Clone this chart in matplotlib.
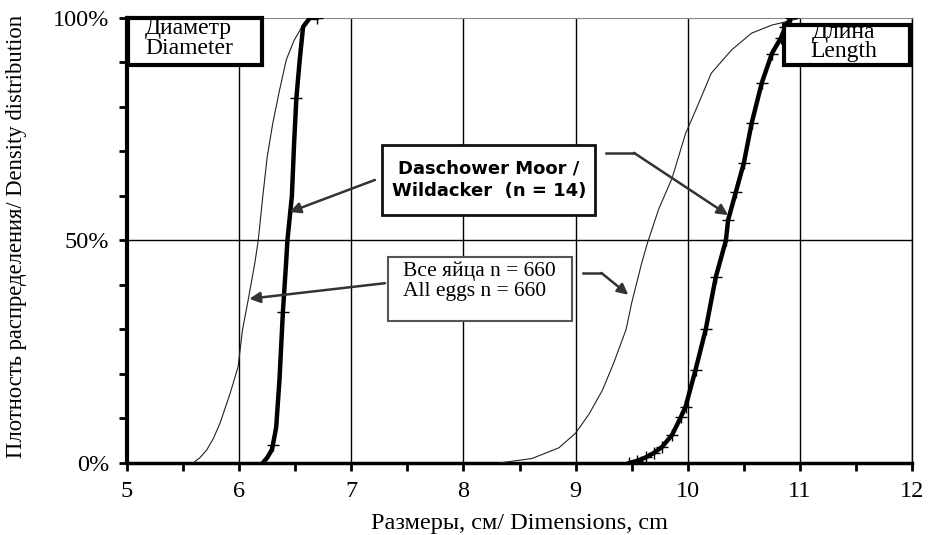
import numpy as np
import matplotlib
matplotlib.use('Agg')
import matplotlib.pyplot as plt
from matplotlib.patches import Rectangle
from matplotlib.ticker import MultipleLocator, FuncFormatter

# cumulative distributions (x in cm, y in %)
dia_all_x = [5.59, 5.65, 5.71, 5.77, 5.83, 5.92, 5.99, 6.03, 6.08, 6.14, 6.17, 6.21, 6.25, 6.30, 6.36, 6.42, 6.49, 6.58, 6.65, 6.72]
dia_all_y = [0, 1.2, 2.9, 5.5, 9, 15.7, 21.6, 30, 36.6, 45, 50, 59.8, 68.8, 76.4, 83.8, 90.6, 95, 98.9, 100, 100]

dia_dw_x = [6.21, 6.25, 6.29, 6.30, 6.33, 6.36, 6.39, 6.42, 6.43, 6.47, 6.49, 6.51, 6.54, 6.57, 6.63, 6.69]
dia_dw_y = [0, 1.2, 2.9, 4, 8, 19, 34, 45.6, 50, 60, 72, 82, 90.6, 98, 100, 100]

len_all_x = [8.32, 8.61, 8.85, 9.00, 9.12, 9.24, 9.34, 9.45, 9.50, 9.59, 9.64, 9.74, 9.86, 9.98, 10.10, 10.21, 10.39, 10.57, 10.75, 10.90, 11.00]
len_all_y = [0, 1, 3.4, 6.7, 11, 16.4, 22.5, 30, 36, 45, 49.4, 57, 64, 74, 81, 87.6, 92.8, 96.6, 98.4, 99.3, 100]

len_dw_x = [9.48, 9.55, 9.63, 9.70, 9.77, 9.86, 9.94, 9.98, 10.07, 10.16, 10.25, 10.34, 10.36, 10.43, 10.50, 10.57, 10.66, 10.75, 10.83, 10.87, 10.92]
len_dw_y = [0, 0.5, 1.3, 2.3, 3.6, 6.3, 10.4, 12.6, 21, 30, 41.8, 50, 54.6, 61, 67.4, 76.4, 85.4, 92, 95.5, 98, 100]

x_ticks = [5, 6, 7, 8, 9, 10, 11, 12]
y_ticks = [0, 50, 100]

plt.rcParams['font.family'] = ['Liberation Serif', 'DejaVu Serif']

fig = plt.figure(figsize=(9.32, 5.35), dpi=100)
ax = fig.add_axes([0.1363, 0.1346, 0.8423, 0.8318])

# grid
for xv in x_ticks[1:]:
    ax.axvline(xv, color='black', lw=1.0, zorder=1)
ax.axhline(50, color='black', lw=1.0, zorder=1)

# curves
ax.plot(dia_all_x, dia_all_y, color='#222222', lw=0.8, zorder=3)
ax.plot(len_all_x, len_all_y, color='#222222', lw=0.8, zorder=3)
ax.plot(dia_dw_x, dia_dw_y, color='black', lw=3.2, zorder=4,
        marker='+', ms=8, mew=1.0, markevery=[3, 6, 11, 15])
ax.plot(len_dw_x, len_dw_y, color='black', lw=3.2, zorder=4,
        marker='+', ms=8, mew=1.0)

ax.set_xlim(5, 12)
ax.set_ylim(0, 100)
ax.set_xticks(x_ticks)
ax.set_yticks(y_ticks)
ax.xaxis.set_minor_locator(MultipleLocator(0.5))
ax.yaxis.set_minor_locator(MultipleLocator(10))
ax.yaxis.set_major_formatter(FuncFormatter(lambda v, p: f'{int(v)}%'))
ax.tick_params(axis='both', which='both', direction='out', width=2, length=6, labelsize=17.5)
ax.tick_params(axis='x', pad=7)
ax.tick_params(axis='y', pad=7)

ax.spines['left'].set_linewidth(3)
ax.spines['bottom'].set_linewidth(2.5)
ax.spines['top'].set_linewidth(0.8)
ax.spines['top'].set_color('#888888')
ax.spines['right'].set_linewidth(1.0)

ax.set_xlabel('Размеры, см/ Dimensions, cm', fontsize=17.5, va='top')
ax.set_ylabel('Плотность распределения/ Density distribution', fontsize=16.3)
ax.xaxis.set_label_coords(0.5, -0.112)
ax.yaxis.set_label_coords(-0.128, 0.508)

# label boxes
tr = ax.transAxes
ax.add_patch(Rectangle((0.001, 0.894), 0.171, 0.105, transform=tr, fill=True, fc='white',
                       ec='black', lw=3, zorder=6, clip_on=False))
ax.text(0.023, 1.0, 'Диаметр\nDiameter', transform=tr, ha='left', va='top',
        fontsize=17, linespacing=0.92, zorder=7)

ax.add_patch(Rectangle((0.837, 0.894), 0.160, 0.090, transform=tr, fill=True, fc='white',
                       ec='black', lw=3, zorder=6, clip_on=False))
ax.text(0.913, 0.992, 'Длина\nLength', transform=tr, ha='center', va='top',
        fontsize=17, linespacing=0.92, zorder=7)

ax.add_patch(Rectangle((0.325, 0.557), 0.271, 0.158, transform=tr, fill=True, fc='white',
                       ec='#111111', lw=2, zorder=6))
ax.text(0.461, 0.636, 'Daschower Moor /\nWildacker  (n = 14)', transform=tr, ha='center',
        va='center', fontsize=13, fontweight='bold', family='DejaVu Sans',
        linespacing=1.3, zorder=7)

ax.add_patch(Rectangle((0.332, 0.319), 0.235, 0.144, transform=tr, fill=True, fc='white',
                       ec='#555555', lw=1.5, zorder=6))
ax.text(0.352, 0.409, 'Все яйца n = 660\nAll eggs n = 660', transform=tr, ha='left',
        va='center', fontsize=15.5, linespacing=1.1, zorder=7)

# arrows
aprops = dict(arrowstyle='-|>', color='#333333', lw=1.8, mutation_scale=16, shrinkA=0, shrinkB=0)
ax.annotate('', xy=(6.45, 56.4), xytext=(7.21, 63.6), arrowprops=aprops, zorder=8)
ax.plot([9.27, 9.52], [69.7, 69.7], color='#333333', lw=1.8, zorder=8)
ax.annotate('', xy=(10.36, 55.7), xytext=(9.52, 69.7), arrowprops=aprops, zorder=8)
ax.annotate('', xy=(6.09, 36.9), xytext=(7.30, 40.4), arrowprops=aprops, zorder=8)
ax.plot([9.07, 9.23], [42.7, 42.7], color='#333333', lw=1.8, zorder=8)
ax.annotate('', xy=(9.47, 37.8), xytext=(9.23, 42.7), arrowprops=aprops, zorder=8)

fig.savefig('out.png', dpi=100)
